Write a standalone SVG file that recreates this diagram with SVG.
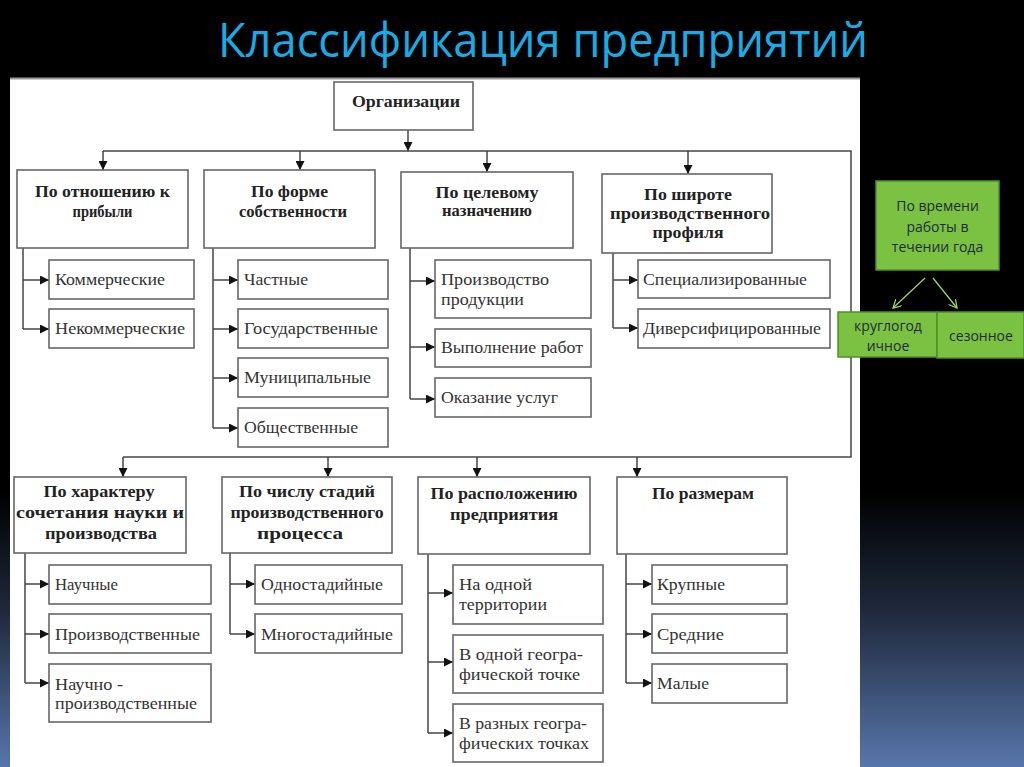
<svg xmlns="http://www.w3.org/2000/svg" width="1024" height="767" viewBox="0 0 1024 767">
<defs>
<linearGradient id="bg" x1="0" y1="0" x2="0" y2="1">
<stop offset="0" stop-color="#000"/>
<stop offset="0.64" stop-color="#000"/>
<stop offset="0.8" stop-color="#1f2a3d"/>
<stop offset="1" stop-color="#5876ab"/>
</linearGradient>
<marker id="ah" viewBox="0 0 10 10" refX="10" refY="5" markerWidth="9" markerHeight="9" markerUnits="userSpaceOnUse" orient="auto">
<path d="M0,0 L10,5 L0,10 z" fill="#111"/>
</marker>
<marker id="ga" viewBox="0 0 10 10" refX="9" refY="5" markerWidth="9" markerHeight="9" markerUnits="userSpaceOnUse" orient="auto">
<path d="M0,0 L9,5 L0,10" fill="none" stroke="#9fd36a" stroke-width="1.4"/>
</marker>
<style>
.box{fill:#fff;stroke:#666;stroke-width:1.6}
.h{font-family:"Liberation Serif",serif;font-weight:bold;font-size:16px;fill:#222;text-anchor:middle}
.t{font-family:"Liberation Serif",serif;font-size:17px;fill:#333}
.c{fill:none;stroke:#444;stroke-width:1.5}
.ca{fill:none;stroke:#444;stroke-width:1.5;marker-end:url(#ah)}
.gbox{fill:#7cc242;stroke:#4f8f2a;stroke-width:1.5}
.gt{font-family:"Open Sans","Noto Sans",sans-serif;font-size:14px;fill:#1e2b3a;text-anchor:middle}
.gc{fill:none;stroke:#9fd36a;stroke-width:1.3;marker-end:url(#ga)}
</style>
</defs>
<rect x="0" y="0" width="1024" height="767" fill="url(#bg)"/>
<text x="218" y="57" font-family="Open Sans, Noto Sans, sans-serif" font-size="48" fill="#19ace4" textLength="650" lengthAdjust="spacingAndGlyphs">Классификация предприятий</text>
<rect x="10" y="78" width="850" height="689" fill="#fff"/>
<line x1="10" y1="78.5" x2="860" y2="78.5" stroke="#999" stroke-width="2"/>

<g id="connectors">
<path class="ca" d="M408,130 V151"/>
<path class="c" d="M103,151 H851 V457 H123"/>
<path class="ca" d="M103,151 V170"/>
<path class="ca" d="M300,151 V170"/>
<path class="ca" d="M487,151 V172"/>
<path class="ca" d="M688,151 V174"/>
<path class="ca" d="M123,457 V477"/>
<path class="ca" d="M328,457 V477"/>
<path class="ca" d="M477,457 V477"/>
<path class="ca" d="M637,457 V477"/>
<path class="c" d="M23,248 V329"/>
<path class="ca" d="M23,280 H49"/>
<path class="ca" d="M23,329 H49"/>
<path class="c" d="M213,248 V428"/>
<path class="ca" d="M213,280 H238"/>
<path class="ca" d="M213,329 H238"/>
<path class="ca" d="M213,378 H238"/>
<path class="ca" d="M213,428 H238"/>
<path class="c" d="M410,248 V399"/>
<path class="ca" d="M410,281 H435"/>
<path class="ca" d="M410,347 H435"/>
<path class="ca" d="M410,399 H435"/>
<path class="c" d="M613,253 V328"/>
<path class="ca" d="M613,280 H638"/>
<path class="ca" d="M613,328 H638"/>
<path class="c" d="M25,553 V683"/>
<path class="ca" d="M25,584 H49"/>
<path class="ca" d="M25,634 H49"/>
<path class="ca" d="M25,683 H49"/>
<path class="c" d="M230,553 V634"/>
<path class="ca" d="M230,584 H255"/>
<path class="ca" d="M230,634 H255"/>
<path class="c" d="M428,554 V733"/>
<path class="ca" d="M428,593 H453"/>
<path class="ca" d="M428,662 H453"/>
<path class="ca" d="M428,733 H453"/>
<path class="c" d="M626,554 V683"/>
<path class="ca" d="M626,584 H652"/>
<path class="ca" d="M626,634 H652"/>
<path class="ca" d="M626,683 H652"/>
<path class="gc" d="M925,278 L893,308"/>
<path class="gc" d="M933,278 L957,308"/>
</g>

<g id="org"><rect class="box" x="334" y="82" width="139" height="48"/><text class="h" x="406" y="107" textLength="108" lengthAdjust="spacingAndGlyphs">Организации</text></g>

<g id="h1"><rect class="box" x="17" y="170" width="171" height="78"/>
<text class="h" x="102.5" y="197" textLength="135" lengthAdjust="spacingAndGlyphs">По отношению к</text>
<text class="h" x="102.5" y="217" textLength="60" lengthAdjust="spacingAndGlyphs">прибыли</text></g>
<g id="h2"><rect class="box" x="204" y="170" width="171" height="78"/>
<text class="h" x="289.5" y="197" textLength="77" lengthAdjust="spacingAndGlyphs">По форме</text>
<text class="h" x="293" y="217" textLength="108" lengthAdjust="spacingAndGlyphs">собственности</text></g>
<g id="h3"><rect class="box" x="401" y="172" width="172" height="76"/>
<text class="h" x="487" y="198" textLength="103" lengthAdjust="spacingAndGlyphs">По целевому</text>
<text class="h" x="487" y="216" textLength="90" lengthAdjust="spacingAndGlyphs">назначению</text></g>
<g id="h4"><rect class="box" x="602" y="174" width="170" height="79"/>
<text class="h" x="688" y="200" textLength="88" lengthAdjust="spacingAndGlyphs">По широте</text>
<text class="h" x="690" y="219" textLength="160" lengthAdjust="spacingAndGlyphs">производственного</text>
<text class="h" x="688" y="238" textLength="71" lengthAdjust="spacingAndGlyphs">профиля</text></g>

<g id="i11"><rect class="box" x="49" y="260" width="145" height="39"/><text class="t" x="55" y="285" textLength="110" lengthAdjust="spacingAndGlyphs">Коммерческие</text></g>
<g id="i12"><rect class="box" x="49" y="309" width="145" height="39"/><text class="t" x="55" y="334" textLength="130" lengthAdjust="spacingAndGlyphs">Некоммерческие</text></g>
<g id="i21"><rect class="box" x="238" y="260" width="150" height="39"/><text class="t" x="244" y="285" textLength="64" lengthAdjust="spacingAndGlyphs">Частные</text></g>
<g id="i22"><rect class="box" x="238" y="309" width="150" height="39"/><text class="t" x="244" y="334" textLength="134" lengthAdjust="spacingAndGlyphs">Государственные</text></g>
<g id="i23"><rect class="box" x="238" y="358" width="150" height="39"/><text class="t" x="244" y="383" textLength="127" lengthAdjust="spacingAndGlyphs">Муниципальные</text></g>
<g id="i24"><rect class="box" x="238" y="408" width="150" height="39"/><text class="t" x="244" y="433" textLength="114" lengthAdjust="spacingAndGlyphs">Общественные</text></g>
<g id="i31"><rect class="box" x="435" y="260" width="156" height="58"/><text class="t" x="441" y="285" textLength="108" lengthAdjust="spacingAndGlyphs">Производство</text><text class="t" x="441" y="305" textLength="83" lengthAdjust="spacingAndGlyphs">продукции</text></g>
<g id="i32"><rect class="box" x="435" y="329" width="156" height="38"/><text class="t" x="441" y="353" textLength="142" lengthAdjust="spacingAndGlyphs">Выполнение работ</text></g>
<g id="i33"><rect class="box" x="435" y="378" width="156" height="39"/><text class="t" x="441" y="403" textLength="117" lengthAdjust="spacingAndGlyphs">Оказание услуг</text></g>
<g id="i41"><rect class="box" x="638" y="260" width="192" height="38"/><text class="t" x="643" y="285" textLength="164" lengthAdjust="spacingAndGlyphs">Специализированные</text></g>
<g id="i42"><rect class="box" x="638" y="309" width="192" height="39"/><text class="t" x="643" y="334" textLength="178" lengthAdjust="spacingAndGlyphs">Диверсифицированные</text></g>

<g id="h5"><rect class="box" x="14" y="477" width="172" height="76"/>
<text class="h" x="99" y="497" textLength="111" lengthAdjust="spacingAndGlyphs">По характеру</text>
<text class="h" x="100" y="518" textLength="168" lengthAdjust="spacingAndGlyphs">сочетания науки и</text>
<text class="h" x="101" y="539" textLength="112" lengthAdjust="spacingAndGlyphs">производства</text></g>
<g id="h6"><rect class="box" x="222" y="477" width="170" height="76"/>
<text class="h" x="307" y="497" textLength="136" lengthAdjust="spacingAndGlyphs">По числу стадий</text>
<text class="h" x="307" y="518" textLength="153" lengthAdjust="spacingAndGlyphs">производственного</text>
<text class="h" x="300" y="539" textLength="86" lengthAdjust="spacingAndGlyphs">процесса</text></g>
<g id="h7"><rect class="box" x="418" y="477" width="172" height="77"/>
<text class="h" x="504" y="499" textLength="147" lengthAdjust="spacingAndGlyphs">По расположению</text>
<text class="h" x="504" y="520" textLength="108" lengthAdjust="spacingAndGlyphs">предприятия</text></g>
<g id="h8"><rect class="box" x="617" y="477" width="170" height="77"/>
<text class="h" x="703" y="499" textLength="102" lengthAdjust="spacingAndGlyphs">По размерам</text></g>

<g id="i51"><rect class="box" x="49" y="565" width="162" height="39"/><text class="t" x="55" y="590" textLength="63" lengthAdjust="spacingAndGlyphs">Научные</text></g>
<g id="i52"><rect class="box" x="49" y="614" width="162" height="39"/><text class="t" x="55" y="640" textLength="145" lengthAdjust="spacingAndGlyphs">Производственные</text></g>
<g id="i53"><rect class="box" x="49" y="664" width="162" height="58"/><text class="t" x="55" y="690" textLength="68" lengthAdjust="spacingAndGlyphs">Научно -</text><text class="t" x="55" y="709" textLength="142" lengthAdjust="spacingAndGlyphs">производственные</text></g>
<g id="i61"><rect class="box" x="255" y="565" width="147" height="39"/><text class="t" x="261" y="590" textLength="122" lengthAdjust="spacingAndGlyphs">Одностадийные</text></g>
<g id="i62"><rect class="box" x="255" y="614" width="147" height="39"/><text class="t" x="261" y="640" textLength="132" lengthAdjust="spacingAndGlyphs">Многостадийные</text></g>
<g id="i71"><rect class="box" x="453" y="565" width="150" height="59"/><text class="t" x="459" y="590" textLength="73" lengthAdjust="spacingAndGlyphs">На одной</text><text class="t" x="459" y="610" textLength="88" lengthAdjust="spacingAndGlyphs">территории</text></g>
<g id="i72"><rect class="box" x="453" y="635" width="150" height="58"/><text class="t" x="459" y="660" textLength="124" lengthAdjust="spacingAndGlyphs">В одной геогра-</text><text class="t" x="459" y="680" textLength="121" lengthAdjust="spacingAndGlyphs">фической точке</text></g>
<g id="i73"><rect class="box" x="453" y="704" width="150" height="58"/><text class="t" x="459" y="729" textLength="128" lengthAdjust="spacingAndGlyphs">В разных геогра-</text><text class="t" x="459" y="749" textLength="130" lengthAdjust="spacingAndGlyphs">фических точках</text></g>
<g id="i81"><rect class="box" x="652" y="565" width="135" height="39"/><text class="t" x="657" y="590" textLength="68" lengthAdjust="spacingAndGlyphs">Крупные</text></g>
<g id="i82"><rect class="box" x="652" y="614" width="135" height="39"/><text class="t" x="657" y="640" textLength="67" lengthAdjust="spacingAndGlyphs">Средние</text></g>
<g id="i83"><rect class="box" x="652" y="664" width="135" height="39"/><text class="t" x="657" y="689" textLength="52" lengthAdjust="spacingAndGlyphs">Малые</text></g>

<g id="g1"><rect class="gbox" x="876" y="181" width="123" height="89"/>
<text class="gt" x="937.5" y="211">По времени</text>
<text class="gt" x="937.5" y="232">работы в</text>
<text class="gt" x="937.5" y="252">течении года</text></g>
<g id="g2"><rect class="gbox" x="838" y="312" width="99" height="45"/>
<text class="gt" x="888" y="331">круглогод</text>
<text class="gt" x="888" y="351">ичное</text></g>
<g id="g3"><rect class="gbox" x="937" y="312" width="87" height="46"/>
<text class="gt" x="981" y="341">сезонное</text></g>
</svg>
